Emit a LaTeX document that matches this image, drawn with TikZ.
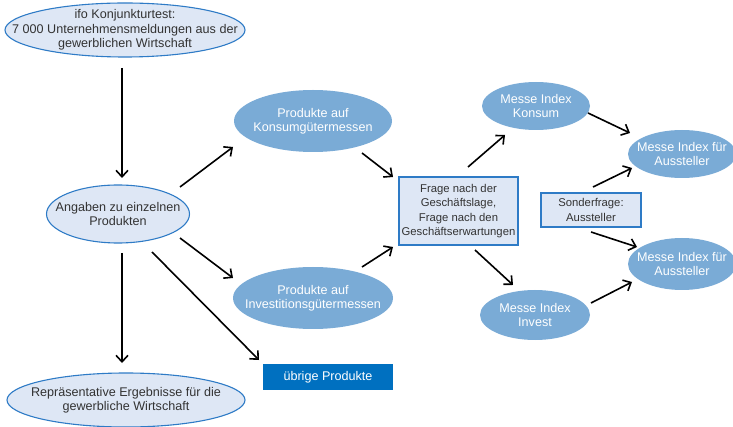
\documentclass[tikz,border=0pt]{standalone}
\usepackage{fontspec}
\setmainfont{Liberation Sans}
\usetikzlibrary{shapes.geometric,arrows.meta,calc}
\definecolor{lightfill}{HTML}{DEE7F5}
\definecolor{lineblue}{HTML}{2E7BC6}
\definecolor{midblue}{HTML}{7AABD6}
\definecolor{darkblue}{HTML}{0070C0}
\definecolor{txt}{HTML}{333333}
\begin{document}
\begin{tikzpicture}[x=1pt,y=-1pt,
  lightell/.style={ellipse, draw=lineblue, line width=1.1pt, fill=lightfill, text=txt,
    align=center, inner xsep=-60pt, inner ysep=-20pt,
    font=\fontsize{12.6}{14.5}\selectfont},
  midell/.style={ellipse, fill=midblue, text=white,
    align=center, inner xsep=-60pt, inner ysep=-20pt,
    font=\fontsize{12.6}{14.5}\selectfont},
  lightbox/.style={rectangle, draw=lineblue, line width=1.1pt, fill=lightfill, text=txt,
    align=center, inner sep=0pt, font=\fontsize{11.3}{14.3}\selectfont},
  arr/.style={draw=black, line width=1.6pt, -{Straight Barb[length=6.5pt,width=12pt,line width=1.6pt]}}]
\useasboundingbox (0,0) rectangle (733,427);

\node[lightell, minimum width=240, minimum height=54] (ifo) at (125,30)
  {ifo Konjunkturtest:\\7 000 Unternehmensmeldungen aus der\\gewerblichen Wirtschaft};
\node[lightell, minimum width=143, minimum height=58] (ang) at (118,214)
  {Angaben zu einzelnen\\Produkten};
\node[lightell, minimum width=238, minimum height=54] (rep) at (126,400)
  {Repräsentative Ergebnisse für die\\gewerbliche Wirtschaft};
\node[midell, minimum width=158, minimum height=62] (kon) at (313,121)
  {Produkte auf\\Konsumgütermessen};
\node[midell, minimum width=160, minimum height=62] (inv) at (313,298)
  {Produkte auf\\Investitionsgütermessen};
\node[rectangle, fill=darkblue, text=white, minimum width=130, minimum height=26,
  inner sep=0pt, font=\fontsize{12.6}{14.5}\selectfont] (ub) at (328,377) {übrige Produkte};
\node[lightbox, minimum width=119, minimum height=68] (fr) at (458.5,211)
  {Frage nach der\\Geschäftslage,\\Frage nach den\\Geschäftserwartungen};
\node[midell, minimum width=108, minimum height=48] (mk) at (536,106)
  {Messe Index\\Konsum};
\node[midell, minimum width=110, minimum height=50] (mi) at (535,315)
  {Messe Index\\Invest};
\node[midell, minimum width=108, minimum height=48] (at) at (682,154)
  {Messe Index für\\Aussteller};
\node[lightbox, minimum width=100, minimum height=34] (sf) at (591,210)
  {Sonderfrage:\\Aussteller};
\node[midell, minimum width=108, minimum height=52] (ab) at (682,264)
  {Messe Index für\\Aussteller};

\draw[arr] ($(ifo)+(-3,38)$) -- ($(ang)+(4,-36)$);
\draw[arr] ($(ang)+(4,39)$) -- ($(rep)+(-4,-37)$);
\draw[arr] ($(ang)+(62,-27)$) -- ($(kon)+(-80,26)$);
\draw[arr] ($(ang)+(62,24)$) -- ($(inv)+(-80,-20)$);
\draw[arr] ($(ang)+(34,38)$) -- ($(ub)+(-69,-17)$);
\draw[arr] ($(kon)+(49,32)$) -- ($(fr)+(-65.5,-34)$);
\draw[arr] ($(inv)+(49,-31)$) -- ($(fr)+(-65.5,36)$);
\draw[arr] ($(fr)+(9.5,-44)$) -- ($(mk)+(-31,29)$);
\draw[arr] ($(fr)+(16.5,39)$) -- ($(mi)+(-22,-30)$);
\draw[arr] ($(mk)+(52,7)$) -- ($(at)+(-52,-21)$);
\draw[arr] ($(sf)+(2,-23)$) -- ($(at)+(-50,14)$);
\draw[arr] ($(sf)+(0,22)$) -- ($(ab)+(-45,-17)$);
\draw[arr] ($(mi)+(56,-12)$) -- ($(ab)+(-50,18)$);
\end{tikzpicture}
\end{document}
